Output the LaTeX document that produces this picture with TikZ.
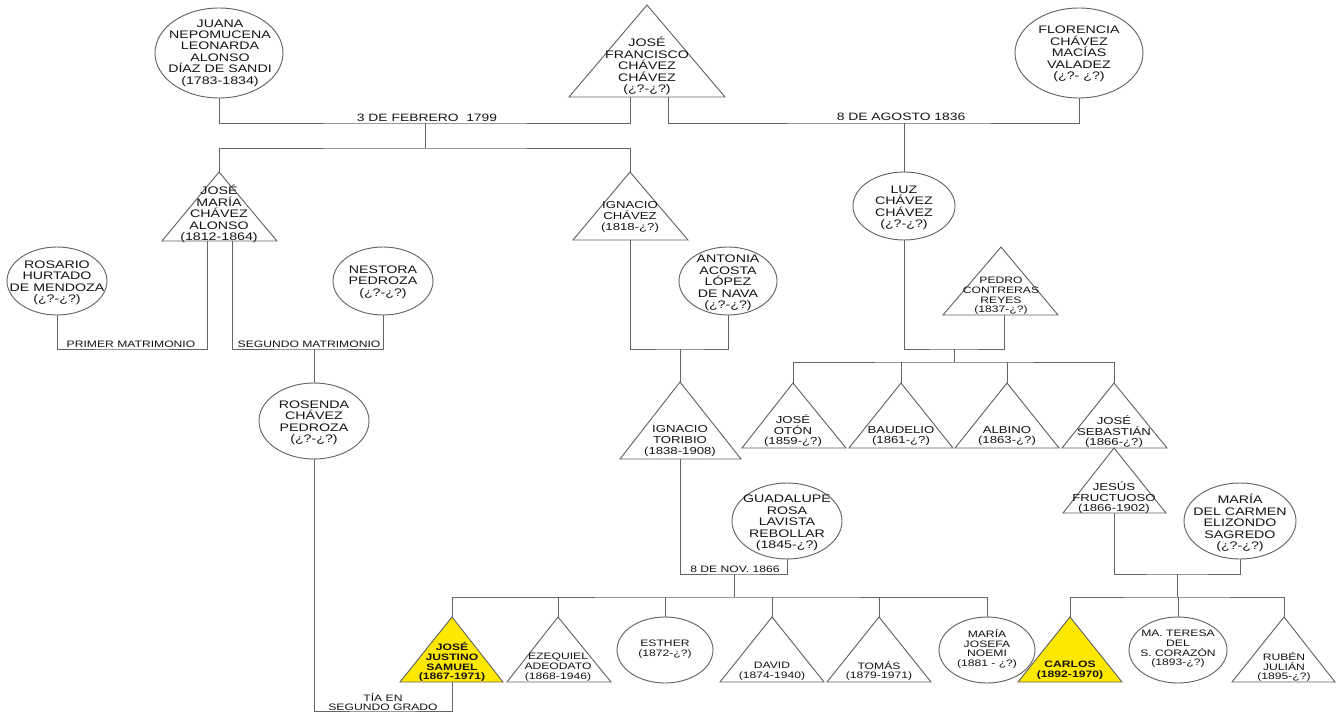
\documentclass[tikz,border=0pt]{standalone}
\usepackage{fontspec}
\setmainfont{Liberation Sans}[FakeStretch=1.3]
\usetikzlibrary{shapes.geometric}
\definecolor{ln}{RGB}{100,100,100}
\definecolor{tx}{RGB}{20,20,20}
\definecolor{yel}{RGB}{255,232,0}
\newcommand{\Tri}[7]{%
  \coordinate (#1) at (#2,#3);
  \coordinate (#1-b) at (#2,#4);
  \filldraw[shp, fill=#7] (#2,#3) -- (#5,#4) -- (#6,#4) -- cycle;}
\newcommand{\Ell}[5]{%
  \node[ellshape, minimum width={#4*1.5pt}, minimum height={#5*1.5pt}] (#1) at (#2,#3) {};}
\begin{document}
\begin{tikzpicture}[x=0.75pt,y=-0.75pt,
  conn/.style={draw=ln, line width=0.7pt},
  shp/.style={draw=ln, line width=0.7pt, line join=miter},
  ellshape/.style={ellipse, shp, fill=white, inner sep=0pt},
  tA/.style={align=center, inner sep=0pt, text=tx, font=\fontsize{8.2}{8.55}\selectfont},
  tB/.style={align=center, inner sep=0pt, text=tx, font=\fontsize{7.6}{7.9}\selectfont},
  tC/.style={align=center, inner sep=0pt, text=tx, font=\fontsize{7}{7.3}\selectfont},
  tK/.style={align=center, inner sep=0pt, text=tx, font=\fontsize{7}{7.3}\selectfont\bfseries},
  labA/.style={inner sep=0pt, text=tx, font=\fontsize{8}{8.5}\selectfont},
  lab/.style={align=center, inner sep=0pt, text=tx, font=\fontsize{7}{7.1}\selectfont},
]
\useasboundingbox (0,0) rectangle (1336,713);

% ---------- shapes ----------
\Ell{juana}{219}{53}{64}{45}
\Ell{flor}{1079}{53}{64}{45}
\Ell{luz}{904}{206}{51}{34}
\Ell{rosario}{57}{281}{50}{34}
\Ell{nestora}{383}{281}{50}{34}
\Ell{rosenda}{314}{421}{55}{38}
\Ell{antonia}{728}{281}{49}{34}
\Ell{guad}{787}{521}{55}{38}
\Ell{carmen}{1240}{521}{56}{38}
\Ell{esther}{665}{650}{48}{33}
\Ell{mjosefa}{987}{650}{48}{33}
\Ell{teresa}{1178}{650}{49}{33}

\Tri{jfran}{647}{5}{97}{569}{725}{white}
\Tri{jmaria}{219}{172}{241}{162}{277}{white}
\Tri{ignc}{630}{172}{240}{573}{688}{white}
\Tri{itor}{680}{382}{459}{620}{741}{white}
\Tri{pedro}{1001}{247}{315}{943}{1058}{white}
\Tri{joton}{793}{383}{448}{742}{846}{white}
\Tri{baud}{901}{383}{448}{849}{953}{white}
\Tri{albino}{1007}{383}{448}{955}{1059}{white}
\Tri{jsebas}{1114}{383}{448}{1062}{1167}{white}
\Tri{jesus}{1114}{448}{513}{1063}{1166}{white}
\Tri{jjust}{452}{617}{682}{400}{503}{yel}
\Tri{ezeq}{558}{617}{682}{507}{611}{white}
\Tri{david}{772}{617}{682}{720}{824}{white}
\Tri{tomas}{879}{617}{682}{827}{931}{white}
\Tri{carlos}{1070}{617}{682}{1018}{1122}{yel}
\Tri{ruben}{1284}{617}{682}{1232}{1335}{white}

% ---------- texts ----------
\node[tA] (juana-n) at (220,53) {JUANA\\NEPOMUCENA\\LEONARDA\\ALONSO\\DÍAZ DE SANDI\\(1783-1834)};
\node[tA] (jfran-n) at (647,66) {JOSÉ\\FRANCISCO\\CHÁVEZ\\CHÁVEZ\\(¿?-¿?)};
\node[tA] (flor-n) at (1079,54) {FLORENCIA\\CHÁVEZ\\MACÍAS\\VALADEZ\\(¿?- ¿?)};
\node[tA] (luz-n) at (904,208) {LUZ\\CHÁVEZ\\CHÁVEZ\\(¿?-¿?)};
\node[tA] (jmaria-n) at (219,214) {JOSÉ\\MARÍA\\CHÁVEZ\\ALONSO\\(1812-1864)};
\node[tB] (ignc-n) at (630,217) {IGNACIO\\CHÁVEZ\\(1818-¿?)};
\node[tA] (rosario-n) at (57,283) {ROSARIO\\HURTADO\\DE MENDOZA\\(¿?-¿?)};
\node[tA] (nestora-n) at (383,282) {NESTORA\\PEDROZA\\(¿?-¿?)};
\node[tA] (rosenda-n) at (314,423) {ROSENDA\\CHÁVEZ\\PEDROZA\\(¿?-¿?)};
\node[tA] (antonia-n) at (728,283) {ANTONIA\\ACOSTA\\LÓPEZ\\DE NAVA\\(¿?-¿?)};
\node[tB] (itor-n) at (680,441) {IGNACIO\\TORIBIO\\(1838-1908)};
\node[tC] (pedro-n) at (1001,296) {PEDRO\\CONTRERAS\\REYES\\(1837-¿?)};
\node[tB] (joton-n) at (793,431) {JOSÉ\\OTÓN\\(1859-¿?)};
\node[tB] (baud-n) at (901,436) {BAUDELIO\\(1861-¿?)};
\node[tB] (albino-n) at (1007,436) {ALBINO\\(1863-¿?)};
\node[tB] (jsebas-n) at (1114,432) {JOSÉ\\SEBASTIÁN\\(1866-¿?)};
\node[tB] (jesus-n) at (1114,498) {JESÚS\\FRUCTUOSO\\(1866-1902)};
\node[tA] (guad-n) at (787,523) {GUADALUPE\\ROSA\\LAVISTA\\REBOLLAR\\(1845-¿?)};
\node[tA] (carmen-n) at (1240,523) {MARÍA\\DEL CARMEN\\ELIZONDO\\SAGREDO\\(¿?-¿?)};
\node[tK] (jjust-n) at (452,662) {JOSÉ\\JUSTINO\\SAMUEL\\(1867-1971)};
\node[tC] (ezeq-n) at (558,667) {EZEQUIEL\\ADEODATO\\(1868-1946)};
\node[tC] (esther-n) at (665,649) {ESTHER\\(1872-¿?)};
\node[tC] (david-n) at (772,671) {DAVID\\(1874-1940)};
\node[tC] (tomas-n) at (879,671) {TOMÁS\\(1879-1971)};
\node[tC] (mjosefa-n) at (987,649) {MARÍA\\JOSEFA\\NOEMI\\(1881 - ¿?)};
\node[tK] (carlos-n) at (1070,670) {CARLOS\\(1892-1970)};
\node[tC] (teresa-n) at (1178,649) {MA. TERESA\\DEL\\S. CORAZÓN\\(1893-¿?)};
\node[tC] (ruben-n) at (1284,667) {RUBÉN\\JULIÁN\\(1895-¿?)};

% ---------- junction points ----------
\coordinate (jf-a) at (630,97);
\coordinate (jf-c) at (668,97);
\coordinate (m1) at (425,123);
\coordinate (m1c) at (425,148);
\coordinate (m2) at (904,123);
\coordinate (jm-a) at (207,241);
\coordinate (jm-c) at (232,241);
\coordinate (pm) at (131,349);
\coordinate (sm) at (314,349);
\coordinate (tia) at (383,711);
\coordinate (m3) at (680,349);
\coordinate (m4) at (734,574);
\coordinate (r1) at (734,597);
\coordinate (m5) at (954,349);
\coordinate (pd-b) at (1004,315);
\coordinate (r2) at (954,362);
\coordinate (m6) at (1177,574);
\coordinate (r3) at (1177,597);

% ---------- connectors ----------
\draw[conn] (juana.south) |- (m1) -| (jf-a);
\draw[conn] (m1) -- (m1c);
\draw[conn] (jmaria) |- (m1c) -| (ignc);
\draw[conn] (jf-c) |- (m2) -| (flor.south);
\draw[conn] (m2) -- (luz.north);
\draw[conn] (jm-a) |- (pm) -| (rosario.south);
\draw[conn] (jm-c) |- (sm) -| (nestora.south);
\draw[conn] (sm) -- (rosenda.north);
\draw[conn] (rosenda.south) |- (tia) -| (jjust-b);
\draw[conn] (ignc-b) |- (m3) -| (antonia.south);
\draw[conn] (m3) -- (itor);
\draw[conn] (itor-b) |- (m4) -| (guad.south);
\draw[conn] (m4) -- (r1);
\draw[conn] (jjust) |- (r1) -| (mjosefa.north);
\draw[conn] (ezeq) -- (ezeq |- r1);
\draw[conn] (esther.north) -- (esther.north |- r1);
\draw[conn] (david) -- (david |- r1);
\draw[conn] (tomas) -- (tomas |- r1);
\draw[conn] (luz.south) |- (m5) -| (pd-b);
\draw[conn] (m5) -- (r2);
\draw[conn] (joton) |- (r2) -| (jsebas);
\draw[conn] (baud) -- (baud |- r2);
\draw[conn] (albino) -- (albino |- r2);
\draw[conn] (jesus-b) |- (m6) -| (carmen.south);
\draw[conn] (m6) -- (r3);
\draw[conn] (carlos) |- (r3) -| (ruben);
\draw[conn] (teresa.north) -- (teresa.north |- r3);

% ---------- labels ----------
\node[labA] (l1) at (427,118) {3 DE FEBRERO\ \ 1799};
\node[labA] (l2) at (901,117) {8 DE AGOSTO 1836};
\node[lab] (l3) at (131,344) {PRIMER MATRIMONIO};
\node[lab] (l4) at (309,344) {SEGUNDO MATRIMONIO};
\node[lab] (l5) at (735,569) {8 DE NOV. 1866};
\node[lab, font=\fontsize{7}{7.2}\selectfont] (l6) at (383,702) {TÍA EN\\SEGUNDO GRADO};
\end{tikzpicture}
\end{document}
